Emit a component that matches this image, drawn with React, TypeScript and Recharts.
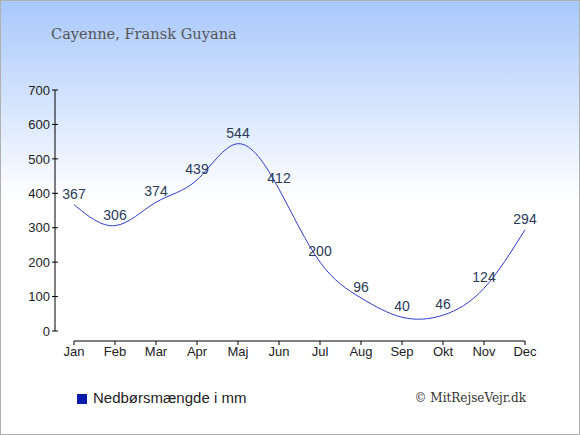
import { LineChart, Line, XAxis, YAxis, LabelList } from 'recharts';

const months = ['Jan', 'Feb', 'Mar', 'Apr', 'Maj', 'Jun', 'Jul', 'Aug', 'Sep', 'Okt', 'Nov', 'Dec'];
const rain = [367, 306, 374, 439, 544, 412, 200, 96, 40, 46, 124, 294];
const yTicks = [0, 100, 200, 300, 400, 500, 600, 700];

const data = months.map((m, i) => ({ month: m, rain: rain[i] }));

const SANS = '"Liberation Sans", Arial, sans-serif';
const SERIF = '"DejaVu Serif", Georgia, serif';

function YTick({ x, y, payload }: any) {
  return (
    <text x={x - 16} y={y} dy="0.36em" textAnchor="end" fontSize={13} fontFamily={SANS} fill="#222">
      {payload.value}
    </text>
  );
}

function XTick({ x, y, payload }: any) {
  return (
    <text x={x} y={y + 10} dy="0.71em" textAnchor="middle" fontSize={13} fontFamily={SANS} fill="#222">
      {payload.value}
    </text>
  );
}

export default function App() {
  return (
    <div
      style={{
        position: 'absolute',
        left: 0,
        top: 0,
        width: 580,
        height: 435,
        background: 'linear-gradient(to bottom, #a8c8fc 0px, #ffffff 200px, #ffffff 435px)',
        boxShadow: 'inset 0 0 0 1px #b0b0b0',
        overflow: 'hidden',
      }}
    >
      <div
        style={{
          position: 'absolute',
          left: 51,
          top: 26,
          fontFamily: SERIF,
          fontSize: 14.6,
          lineHeight: '15px',
          color: '#555',
          whiteSpace: 'nowrap',
        }}
      >
        Cayenne, Fransk Guyana
      </div>

      <LineChart
        width={580}
        height={435}
        data={data}
        margin={{ top: 90, right: 55, bottom: 74, left: 34 }}
        style={{ position: 'absolute', left: 0, top: 0 }}
      >
        <XAxis
          dataKey="month"
          height={30}
          interval={0}
          tickSize={4}
          axisLine={{ stroke: '#000', transform: 'translate(0,10)' }}
          tickLine={{ stroke: '#000', transform: 'translate(0,10)' }}
          tick={<XTick />}
        />
        <YAxis
          width={40}
          domain={[0, 700]}
          ticks={yTicks}
          tickSize={6}
          axisLine={{ stroke: '#000', transform: 'translate(-19,0)' }}
          tickLine={{ stroke: '#000', transform: 'translate(-16,0)' }}
          tick={<YTick />}
        />
        <Line
          type="natural"
          dataKey="rain"
          stroke="#2c3cc8"
          strokeWidth={1}
          dot={false}
          isAnimationActive={false}
        >
          <LabelList
            dataKey="rain"
            position="top"
            offset={6}
            fontSize={14}
            fontFamily={SANS}
            fill="#2a3a58"
          />
        </Line>
      </LineChart>

      <div
        style={{
          position: 'absolute',
          left: 77,
          top: 394,
          width: 10,
          height: 10,
          background: '#0a1aaa',
        }}
      />
      <div
        style={{
          position: 'absolute',
          left: 93,
          top: 390,
          fontFamily: SANS,
          fontSize: 15,
          lineHeight: '15px',
          color: '#222',
          whiteSpace: 'nowrap',
        }}
      >
        Nedbørsmængde i mm
      </div>
      <div
        style={{
          position: 'absolute',
          right: 54,
          top: 392,
          fontFamily: SERIF,
          fontSize: 12,
          lineHeight: '12px',
          color: '#333',
          whiteSpace: 'nowrap',
        }}
      >
        © MitRejseVejr.dk
      </div>
    </div>
  );
}
